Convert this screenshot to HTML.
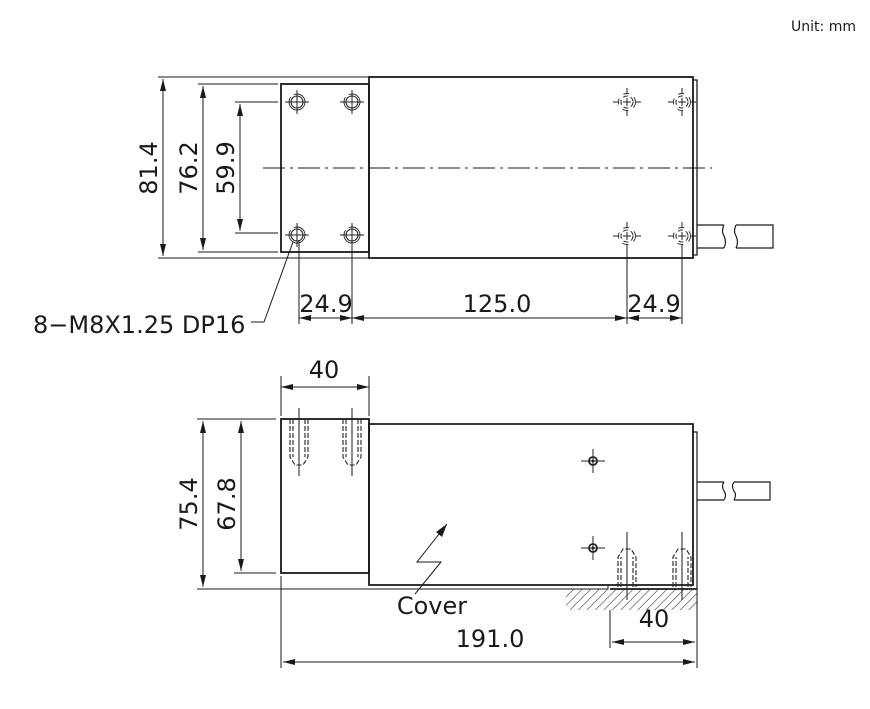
<!DOCTYPE html>
<html><head><meta charset="utf-8"><style>
html,body{margin:0;padding:0;background:#fff;}
svg{display:block;}
text{font-family:"DejaVu Sans","Liberation Sans",sans-serif;fill:#1a1a1a;}
</style></head><body>
<svg width="870" height="709" viewBox="0 0 870 709" xmlns="http://www.w3.org/2000/svg">
<defs>
<marker id="a" viewBox="0 0 12 6" refX="12" refY="3" markerWidth="12" markerHeight="6" orient="auto-start-reverse" markerUnits="userSpaceOnUse"><path d="M0,0 L12,3 L0,6 z" fill="#1a1a1a"/></marker>
<pattern id="h" width="6" height="6" patternUnits="userSpaceOnUse" patternTransform="rotate(45)"><line x1="0" y1="0" x2="0" y2="6" stroke="#333" stroke-width="1.2"/></pattern>
<g id="hole"><circle r="6" fill="none" stroke="#222" stroke-width="1.1"/><circle r="8" fill="none" stroke="#222" stroke-width="0.9" stroke-dasharray="30 4"/><line x1="-12" y1="0" x2="12" y2="0" stroke="#222"/><line x1="0" y1="-12" x2="0" y2="12" stroke="#222"/></g>
<g id="hole2"><circle r="6" fill="none" stroke="#222" stroke-width="1" stroke-dasharray="5 3"/><circle r="8.5" fill="none" stroke="#222" stroke-width="0.9" stroke-dasharray="6 6"/><line x1="-4" y1="0" x2="4" y2="0" stroke="#222"/><line x1="0" y1="-4" x2="0" y2="4" stroke="#222"/><line x1="-14" y1="0" x2="-9" y2="0" stroke="#222"/><line x1="9" y1="0" x2="14" y2="0" stroke="#222"/><line x1="0" y1="-14" x2="0" y2="-9" stroke="#222"/><line x1="0" y1="9" x2="0" y2="14" stroke="#222"/></g>
<g id="cross"><circle r="4" fill="none" stroke="#222" stroke-width="1.8"/><circle r="1.5" fill="#222"/><line x1="-12" y1="0" x2="12" y2="0" stroke="#222"/><line x1="0" y1="-12" x2="0" y2="12" stroke="#222"/></g>
<g id="boltD" fill="none" stroke="#222" stroke-width="1.1" stroke-dasharray="5 2"><path d="M-9,0 V38 L-4,46 H4 L9,38 V0"/><path d="M-6,0 V38 M6,0 V38"/></g>
<g id="boltU" fill="none" stroke="#222" stroke-width="1.1" stroke-dasharray="5 2"><path d="M-9,0 V-30 L-4,-38 H4 L9,-30 V0"/><path d="M-6,0 V-30 M6,0 V-30"/></g>
</defs>
<text x="856" y="31" font-size="14" text-anchor="end" font-family="Liberation Sans">Unit: mm</text>

<!-- TOP VIEW -->
<g fill="none" stroke="#1a1a1a">
<rect x="281" y="84" width="88" height="168" stroke-width="1.8"/>
<rect x="369" y="77" width="324" height="181" stroke-width="1.8"/>
<path d="M693,80 H697 V255 H693" stroke-width="1.3"/>
<line x1="263" y1="168" x2="712" y2="168" stroke-width="1" stroke-dasharray="22 5 3 5"/>
<path d="M697,225 H724 M697,248 H724 M724,225 q-3,6 0,11 q3,6 0,12 M736,225 q-3,6 0,11 q3,6 0,12 M736,225 H773 V248 H736" stroke-width="1.2"/>
<line x1="158" y1="77" x2="369" y2="77" stroke-width="1"/>
<line x1="158" y1="258" x2="369" y2="258" stroke-width="1"/>
<line x1="198" y1="84" x2="278" y2="84"/>
<line x1="198" y1="252" x2="278" y2="252"/>
<line x1="235" y1="102" x2="278" y2="102"/>
<line x1="235" y1="233" x2="278" y2="233"/>
<line x1="163" y1="79" x2="163" y2="256" marker-start="url(#a)" marker-end="url(#a)"/>
<line x1="203" y1="86" x2="203" y2="250" marker-start="url(#a)" marker-end="url(#a)"/>
<line x1="240" y1="104" x2="240" y2="231" marker-start="url(#a)" marker-end="url(#a)"/>
<line x1="299" y1="240" x2="299" y2="324"/>
<line x1="352" y1="240" x2="352" y2="324"/>
<line x1="627" y1="250" x2="627" y2="324"/>
<line x1="682" y1="250" x2="682" y2="324"/>
<line x1="299" y1="318" x2="352" y2="318" marker-start="url(#a)" marker-end="url(#a)"/>
<line x1="352" y1="318" x2="627" y2="318" marker-start="url(#a)" marker-end="url(#a)"/>
<line x1="627" y1="318" x2="682" y2="318" marker-start="url(#a)" marker-end="url(#a)"/>
<path d="M251,322 H264 L293,242" stroke-width="1"/>
</g>
<use href="#hole" x="297" y="102"/><use href="#hole" x="352" y="102"/>
<use href="#hole" x="297" y="235"/><use href="#hole" x="352" y="235"/>
<use href="#hole2" x="627" y="102"/><use href="#hole2" x="682" y="102"/>
<use href="#hole2" x="627" y="236"/><use href="#hole2" x="682" y="236"/>
<text font-size="24" transform="translate(157,168) rotate(-90)" text-anchor="middle">81.4</text>
<text font-size="24" transform="translate(197,168) rotate(-90)" text-anchor="middle">76.2</text>
<text font-size="24" transform="translate(234,168) rotate(-90)" text-anchor="middle">59.9</text>
<text x="326" y="312" font-size="24" text-anchor="middle">24.9</text>
<text x="497" y="312" font-size="24" text-anchor="middle">125.0</text>
<text x="654" y="312" font-size="24" text-anchor="middle">24.9</text>
<text x="33" y="333" font-size="24">8−M8X1.25 DP16</text>

<!-- BOTTOM VIEW -->
<rect x="566" y="589" width="131" height="21" fill="url(#h)"/>
<g fill="none" stroke="#1a1a1a">
<rect x="281" y="419" width="88" height="154" stroke-width="1.8"/>
<path d="M369,424 H693 V585 H369 Z" stroke-width="1.8"/>
<path d="M693,424 V432 H697 V589" stroke-width="1.2"/>
<line x1="610" y1="589" x2="697" y2="589" stroke-width="1.8"/>
<path d="M369,585 H608 V589 H566" stroke-width="1"/>
<path d="M697,482 H724 M697,500 H724 M724,482 q-3,4 0,9 q3,4 0,9 M734,482 q-3,4 0,9 q3,4 0,9 M734,482 H770 V500 H734" stroke-width="1.2"/>
<line x1="281" y1="376" x2="281" y2="416"/>
<line x1="369" y1="376" x2="369" y2="416"/>
<line x1="281" y1="387" x2="369" y2="387" marker-start="url(#a)" marker-end="url(#a)"/>
<line x1="197" y1="419" x2="276" y2="419"/>
<line x1="234" y1="573" x2="276" y2="573"/>
<line x1="197" y1="589" x2="566" y2="589"/>
<line x1="203" y1="421" x2="203" y2="587" marker-start="url(#a)" marker-end="url(#a)"/>
<line x1="241" y1="421" x2="241" y2="571" marker-start="url(#a)" marker-end="url(#a)"/>
<line x1="281" y1="576" x2="281" y2="668"/>
<line x1="697" y1="589" x2="697" y2="668"/>
<line x1="610" y1="610" x2="610" y2="648"/>
<line x1="283" y1="662" x2="695" y2="662" marker-start="url(#a)" marker-end="url(#a)"/>
<line x1="612" y1="642" x2="695" y2="642" marker-start="url(#a)" marker-end="url(#a)"/>
<path d="M415,594 L441,562 L417,562 L447,524" stroke-width="1"/>
<line x1="299" y1="408" x2="299" y2="476"/>
<line x1="352" y1="408" x2="352" y2="476"/>
<line x1="627" y1="532" x2="627" y2="600"/>
<line x1="682" y1="532" x2="682" y2="600"/>
</g>
<path d="M447,524 L436,532 L442,537 z" fill="#1a1a1a"/>
<use href="#boltD" x="299" y="419"/><use href="#boltD" x="352" y="419"/>
<use href="#boltU" x="627" y="587"/><use href="#boltU" x="682" y="587"/>
<use href="#cross" x="593" y="461"/><use href="#cross" x="593" y="548"/>
<text x="324" y="378" font-size="24" text-anchor="middle">40</text>
<text font-size="24" transform="translate(197,504) rotate(-90)" text-anchor="middle">75.4</text>
<text font-size="24" transform="translate(235,504) rotate(-90)" text-anchor="middle">67.8</text>
<text x="432" y="614" font-size="24" text-anchor="middle">Cover</text>
<text x="654" y="627" font-size="24" text-anchor="middle">40</text>
<text x="490" y="647" font-size="24" text-anchor="middle">191.0</text>
</svg>
</body></html>
